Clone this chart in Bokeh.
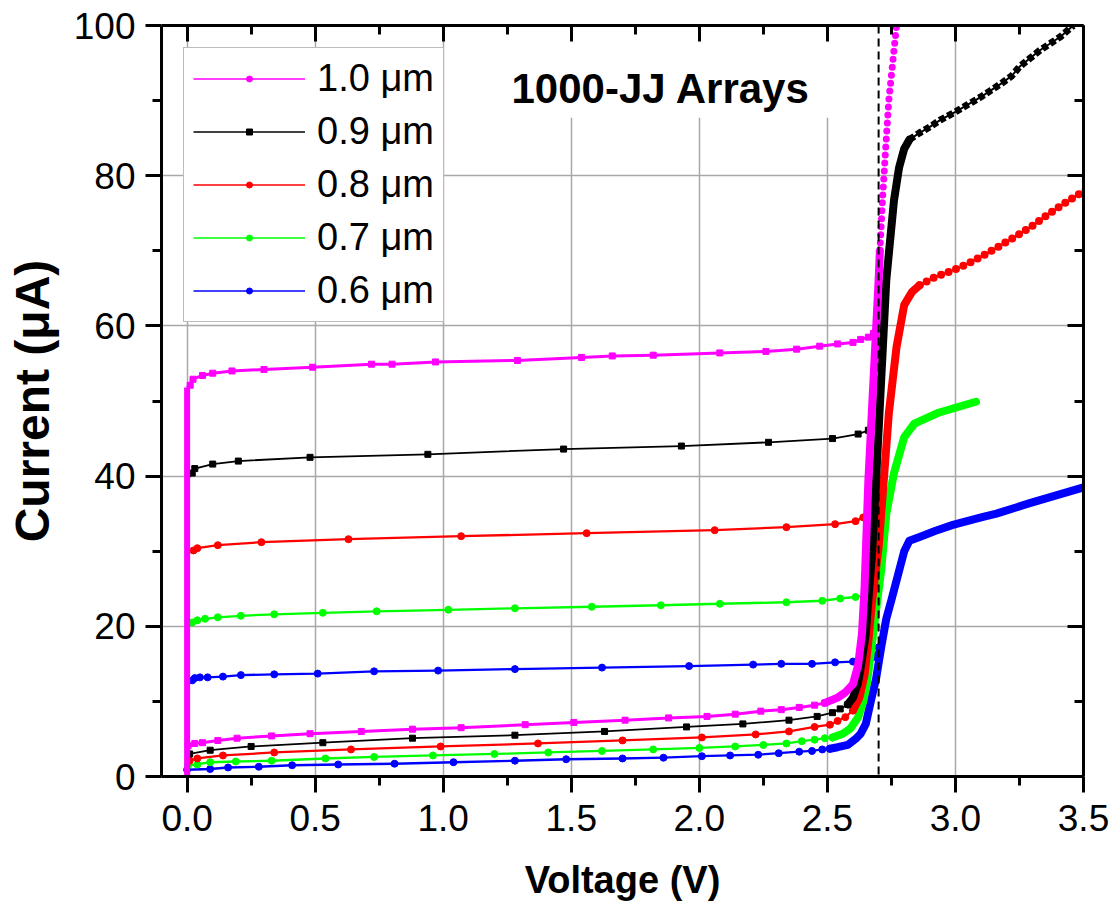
from bokeh.plotting import figure
from bokeh.models import (Range1d, LinearAxis, FixedTicker, Span, Label, NumeralTickFormatter,
                          BoxAnnotation, Legend, LegendItem, ColumnDataSource)
from bokeh.embed import file_html
from bokeh.resources import INLINE

# ---------------- data ----------------
X_TICKS = [0.0, 0.5, 1.0, 1.5, 2.0, 2.5, 3.0, 3.5]
X_MINOR = [0.25, 0.75, 1.25, 1.75, 2.25, 2.75, 3.25]
Y_TICKS = [0, 20, 40, 60, 80, 100]
Y_MINOR = [10, 30, 50, 70, 90]
GAP_V = 2.70
TITLE = "1000-JJ Arrays"
LABELS = ["1.0 \u03bcm", "0.9 \u03bcm", "0.8 \u03bcm", "0.7 \u03bcm", "0.6 \u03bcm"]

# 1.0 um (magenta)
m_up_v = [0.0, 0.0, 0.012, 0.023, 0.06, 0.10, 0.175, 0.30, 0.49, 0.72, 0.80, 0.97, 1.29, 1.54, 1.66,
          1.82, 2.08, 2.26, 2.38, 2.47, 2.54, 2.60, 2.63, 2.66, 2.68]
m_up_i = [0.0, 51.8, 52.1, 52.9, 53.4, 53.7, 54.0, 54.2, 54.5, 54.9, 54.9, 55.2, 55.4, 55.8, 56.0,
          56.1, 56.4, 56.6, 56.9, 57.3, 57.6, 57.8, 58.2, 58.5, 59.0]
m_lo_v = [0.0, 0.004, 0.03, 0.06, 0.12, 0.195, 0.33, 0.48, 0.68, 0.88, 1.07, 1.32, 1.51, 1.71, 1.88,
          2.03, 2.14, 2.24, 2.32, 2.39, 2.45, 2.49]
m_lo_i = [0.0, 4.1, 4.4, 4.5, 4.8, 5.1, 5.4, 5.7, 6.0, 6.3, 6.5, 6.9, 7.2, 7.5, 7.8,
          8.0, 8.3, 8.7, 8.9, 9.2, 9.5, 9.8]
m_gap_v = [2.49, 2.54, 2.57, 2.60, 2.62, 2.635, 2.645, 2.66, 2.68, 2.70, 2.705]
m_gap_i = [9.8, 10.5, 11.2, 12.3, 14.8, 19.0, 25.0, 39.4, 52.8, 66.1, 70.0]
m_tail_v = [2.705, 2.715, 2.727, 2.74, 2.76, 2.77, 2.785]
m_tail_i = [70.0, 76.7, 83.4, 90.1, 96.7, 100.0, 103.4]

# 0.9 um (black)
k_up_v = [0.0, 0.0, 0.02, 0.03, 0.10, 0.20, 0.48, 0.94, 1.47, 1.93, 2.27, 2.52, 2.62, 2.66]
k_up_i = [0.0, 39.4, 40.4, 41.0, 41.6, 42.0, 42.5, 42.9, 43.6, 44.0, 44.5, 45.0, 45.6, 46.1]
k_lo_v = [0.0, 0.01, 0.09, 0.25, 0.53, 0.88, 1.28, 1.63, 1.95, 2.17, 2.35, 2.46, 2.52, 2.55, 2.58]
k_lo_i = [0.0, 3.0, 3.5, 4.0, 4.5, 5.1, 5.5, 6.0, 6.6, 7.0, 7.5, 8.0, 8.5, 9.0, 9.6]
k_gap_v = [2.58, 2.60, 2.62, 2.63, 2.65, 2.66, 2.675, 2.69, 2.71, 2.73, 2.76, 2.78, 2.80, 2.82]
k_gap_i = [9.6, 10.5, 12.5, 14.5, 19.0, 23.5, 30.0, 39.4, 52.8, 66.1, 76.7, 81.1, 83.6, 84.8]
k_tail_v = [2.82, 2.86, 2.90, 2.94, 3.00, 3.05, 3.10, 3.14, 3.18, 3.22, 3.25, 3.29, 3.33, 3.37, 3.41, 3.46]
k_tail_i = [84.8, 85.7, 86.5, 87.4, 88.5, 89.5, 90.5, 91.4, 92.3, 93.3, 94.5, 95.6, 96.7, 97.6, 98.5, 100.0]

# 0.8 um (red)
r_up_v = [0.0, 0.0, 0.025, 0.04, 0.12, 0.29, 0.63, 1.07, 1.56, 2.06, 2.34, 2.53, 2.61, 2.64, 2.68, 2.70]
r_up_i = [0.0, 29.7, 30.1, 30.4, 30.8, 31.2, 31.6, 32.0, 32.4, 32.8, 33.2, 33.6, 34.0, 34.5, 35.8, 37.2]
r_lo_v = [0.0, 0.01, 0.04, 0.14, 0.34, 0.64, 0.99, 1.37, 1.70, 2.01, 2.22, 2.35, 2.45, 2.51, 2.54, 2.57, 2.60]
r_lo_i = [0.0, 2.1, 2.4, 2.8, 3.2, 3.6, 4.0, 4.4, 4.8, 5.2, 5.6, 6.0, 6.6, 6.9, 7.4, 7.9, 8.8]
r_gap_v = [2.60, 2.625, 2.645, 2.66, 2.675, 2.70, 2.72, 2.74, 2.77, 2.80, 2.83, 2.86]
r_gap_i = [8.8, 10.5, 13.5, 18.0, 23.5, 30.5, 39.4, 48.4, 57.2, 62.8, 64.5, 65.4]
r_tail_v = [2.86, 2.92, 2.99, 3.05, 3.10, 3.16, 3.23, 3.30, 3.36, 3.42, 3.49, 3.55, 3.62]
r_tail_i = [65.4, 66.5, 67.4, 68.3, 69.2, 70.4, 71.8, 73.3, 74.8, 76.2, 77.7, 79.0, 80.1]

# 0.7 um (green)
g_up_v = [0.0, 0.0, 0.02, 0.04, 0.07, 0.12, 0.21, 0.34, 0.53, 0.74, 1.02, 1.28, 1.58, 1.85, 2.08,
          2.34, 2.48, 2.55, 2.61, 2.68, 2.70]
g_up_i = [0.0, 20.4, 20.5, 20.8, 21.0, 21.2, 21.4, 21.6, 21.8, 22.0, 22.2, 22.4, 22.6, 22.8, 23.0,
          23.2, 23.4, 23.7, 23.9, 24.4, 25.2]
g_lo_v = [0.0, 0.004, 0.04, 0.09, 0.19, 0.33, 0.54, 0.73, 0.96, 1.20, 1.41, 1.62, 1.82, 2.00, 2.14,
          2.25, 2.34, 2.40, 2.45, 2.49, 2.52]
g_lo_i = [0.0, 1.5, 1.6, 1.9, 2.0, 2.1, 2.4, 2.6, 2.8, 3.0, 3.2, 3.4, 3.6, 3.8, 4.0,
          4.2, 4.4, 4.7, 4.9, 5.1, 5.2]
g_gap_v = [2.52, 2.56, 2.59, 2.62, 2.64, 2.655, 2.675, 2.695, 2.71, 2.73, 2.76, 2.80, 2.84, 2.93, 3.00, 3.08]
g_gap_i = [5.2, 5.7, 6.4, 7.9, 10.0, 12.6, 18.0, 23.5, 27.5, 35.0, 40.4, 45.2, 47.0, 48.4, 49.1, 49.9]

# 0.6 um (blue)
b_up_v = [0.0, 0.0, 0.02, 0.03, 0.05, 0.08, 0.14, 0.21, 0.34, 0.51, 0.73, 0.98, 1.28, 1.62, 1.96,
          2.21, 2.32, 2.44, 2.53, 2.60, 2.65, 2.68, 2.70]
b_up_i = [0.0, 12.4, 12.8, 13.1, 13.2, 13.2, 13.3, 13.5, 13.6, 13.7, 14.0, 14.1, 14.3, 14.5, 14.7,
          14.9, 15.0, 15.0, 15.2, 15.3, 15.7, 15.9, 17.2]
b_lo_v = [0.0, 0.0, 0.09, 0.16, 0.28, 0.41, 0.59, 0.81, 1.04, 1.28, 1.48, 1.70, 1.86, 2.01, 2.12,
          2.23, 2.31, 2.39, 2.44, 2.48, 2.51]
b_lo_i = [0.0, 0.9, 1.0, 1.2, 1.3, 1.5, 1.6, 1.7, 1.9, 2.1, 2.3, 2.4, 2.5, 2.7, 2.8,
          2.9, 3.1, 3.3, 3.4, 3.6, 3.7]
b_gap_v = [2.51, 2.54, 2.58, 2.61, 2.63, 2.65, 2.67, 2.69, 2.71, 2.73, 2.75, 2.77, 2.80, 2.82, 2.86,
           2.92, 2.99, 3.10, 3.16, 3.29, 3.42, 3.50, 3.62]
b_gap_i = [3.7, 3.9, 4.2, 5.0, 5.7, 7.0, 10.1, 13.0, 17.2, 21.0, 23.5, 26.1, 30.0, 31.4, 31.9,
           32.7, 33.5, 34.5, 35.0, 36.4, 37.7, 38.5, 39.7]

MAGENTA, BLACK, RED, GREEN, BLUE = "#ff00ff", "#000000", "#ff0000", "#00ff00", "#0000ff"
FONT = "Liberation Sans"

# ---------------- figure ----------------
p = figure(width=1116, height=904, x_range=Range1d(-0.1, 3.5), y_range=Range1d(0, 100),
           output_backend="svg", toolbar_location=None,
           min_border_left=161, min_border_right=33, min_border_top=25, min_border_bottom=128,
           x_axis_label="Voltage (V)", y_axis_label="Current (\u03bcA)")
p.outline_line_color = None
p.background_fill_color = "white"
p.border_fill_color = "white"

xt = FixedTicker(ticks=X_TICKS, minor_ticks=X_MINOR)
yt = FixedTicker(ticks=Y_TICKS, minor_ticks=Y_MINOR)
bottom = p.below[0]
left = p.left[0]
bottom.ticker = xt
left.ticker = yt
bottom.formatter = NumeralTickFormatter(format="0.0")
p.xgrid.ticker = xt
p.ygrid.ticker = yt
for g in (p.xgrid, p.ygrid):
    g.grid_line_color = "#a8a8a8"
    g.grid_line_width = 1.5

top = LinearAxis(ticker=xt)
right = LinearAxis(ticker=yt)
p.add_layout(top, "above")
p.add_layout(right, "right")

for ax in (bottom, left, top, right):
    ax.axis_line_width = 3
    ax.axis_line_color = "black"
    ax.major_tick_line_width = 3
    ax.minor_tick_line_width = 3
    ax.major_tick_line_color = "black"
    ax.minor_tick_line_color = "black"
    ax.major_label_text_font = FONT
    ax.major_label_text_font_size = "37px"
    ax.major_label_text_color = "black"
    ax.axis_label_text_font = FONT
    ax.axis_label_text_font_style = "bold"
    ax.axis_label_text_color = "black"

bottom.axis_label_text_font_size = "38px"
left.axis_label_text_font_size = "48px"
for ax in (bottom, left):
    ax.major_tick_out = 16
    ax.major_tick_in = 0
    ax.minor_tick_out = 9
    ax.minor_tick_in = 0
bottom.major_label_standoff = 12
bottom.axis_label_standoff = 25
left.major_label_standoff = 10
left.axis_label_standoff = 12
for ax in (top, right):
    ax.major_tick_out = 0
    ax.major_tick_in = 16
    ax.minor_tick_out = 0
    ax.minor_tick_in = 9
    ax.major_label_text_font_size = "0px"
    ax.major_label_standoff = 0

# white box behind the title
p.add_layout(BoxAnnotation(left=1.2, right=2.58, bottom=87.7, top=100, fill_color="white",
                           fill_alpha=1, line_color=None, level="underlay"))

gap_span = Span(location=GAP_V, dimension="height", line_color="black", line_width=2,
                line_dash="8 5")
p.add_layout(gap_span)


def draw(color, marker, lw, ms, up_v, up_i, lo_v, lo_i, gap_v, gap_i, vlw):
    # vertical supercurrent segment at V=0
    p.line(up_v[:2], up_i[:2], line_color=color, line_width=vlw)
    p.line(up_v[1:], up_i[1:], line_color=color, line_width=lw, line_join="round")
    p.scatter(up_v[2:], up_i[2:], marker=marker, size=ms, color=color)
    p.line(lo_v, lo_i, line_color=color, line_width=lw, line_join="round")
    p.scatter(lo_v[1:], lo_i[1:], marker=marker, size=ms, color=color)
    p.line(gap_v, gap_i, line_color=color, line_width=8, line_join="round", line_cap="round")


draw(BLUE, "circle", 2.3, 7, b_up_v, b_up_i, b_lo_v, b_lo_i, b_gap_v, b_gap_i, 4)
draw(GREEN, "circle", 2.3, 7, g_up_v, g_up_i, g_lo_v, g_lo_i, g_gap_v, g_gap_i, 4)
draw(RED, "circle", 2.3, 7, r_up_v, r_up_i, r_lo_v, r_lo_i, r_gap_v, r_gap_i, 4)
p.line(r_tail_v, r_tail_i, line_color=RED, line_width=8, line_dash="0 8", line_cap="round")
draw(BLACK, "square", 1.8, 6, k_up_v, k_up_i, k_lo_v, k_lo_i, k_gap_v, k_gap_i, 4)
p.line(k_tail_v, k_tail_i, line_color=BLACK, line_width=2)
p.line(k_tail_v, k_tail_i, line_color=BLACK, line_width=7, line_dash="6 3")
draw(MAGENTA, "square", 3, 6, m_up_v, m_up_i, m_lo_v, m_lo_i, m_gap_v, m_gap_i, 6)
p.line(m_tail_v, m_tail_i, line_color=MAGENTA, line_width=7, line_dash="0 8", line_cap="round")

p.add_layout(Label(x=1.85, y=91.6, text=TITLE, text_align="center", text_baseline="middle",
                   text_font=FONT, text_font_size="42px", text_font_style="bold",
                   text_color="black"))

# legend (sample-only renderers, one off-screen NaN point each)
nan = float("nan")
items = []
for lab, col, mk in zip(LABELS, [MAGENTA, BLACK, RED, GREEN, BLUE],
                        ["circle", "square", "circle", "circle", "circle"]):
    src = ColumnDataSource(data=dict(x=[nan], y=[nan]))
    lr = p.line("x", "y", source=src, line_color=col, line_width=1.5)
    sr = p.scatter("x", "y", source=src, marker=mk, size=6, color=col)
    items.append(LegendItem(label=lab, renderers=[lr, sr]))

legend = Legend(items=items, location=(22, 454), margin=0, padding=9,
                glyph_width=112, glyph_height=15, label_height=40, label_standoff=12, spacing=10,
                label_text_font=FONT, label_text_font_size="38px", label_text_color="black",
                border_line_color="#7a7a7a", border_line_width=1.5,
                background_fill_color="white", background_fill_alpha=1.0)
p.add_layout(legend)

open("out.html", "w").write(file_html(p, INLINE))
